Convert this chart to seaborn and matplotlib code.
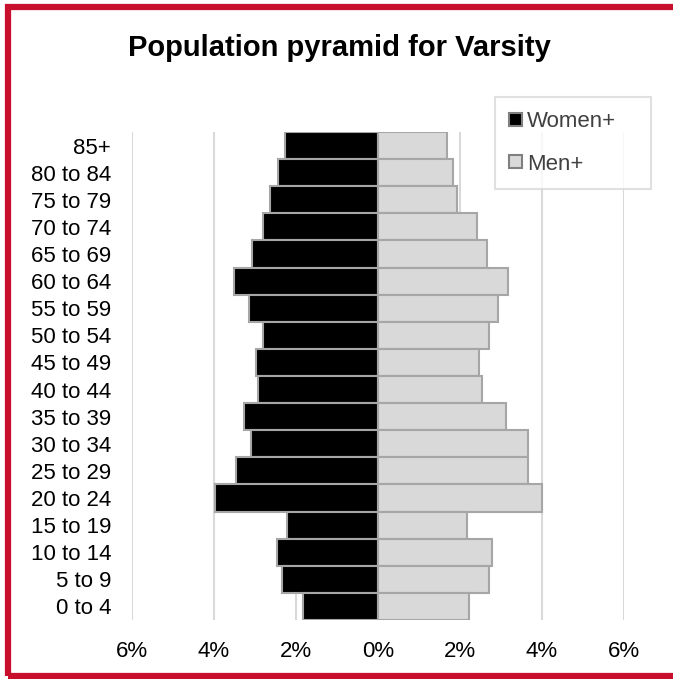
import numpy as np
import pandas as pd
import seaborn as sns
import matplotlib.pyplot as plt
from matplotlib.patches import Rectangle

# Datos del grafico, de arriba hacia abajo
age_groups = ["85+", "80 to 84", "75 to 79", "70 to 74", "65 to 69", "60 to 64",
              "55 to 59", "50 to 54", "45 to 49", "40 to 44", "35 to 39", "30 to 34",
              "25 to 29", "20 to 24", "15 to 19", "10 to 14", "5 to 9", "0 to 4"]
women = [2.27, 2.44, 2.64, 2.81, 3.07, 3.51, 3.14, 2.81, 2.97,
         2.93, 3.26, 3.10, 3.47, 3.97, 2.23, 2.47, 2.35, 1.82]
men = [1.68, 1.84, 1.92, 2.42, 2.67, 3.17, 2.92, 2.71, 2.46,
       2.54, 3.13, 3.67, 3.67, 4.01, 2.17, 2.79, 2.71, 2.21]
x_ticks = [-6, -4, -2, 0, 2, 4, 6]
x_tick_labels = ["6%", "4%", "2%", "0%", "2%", "4%", "6%"]

# Armamos el dataframe largo (mujeres a la izquierda, en negativo)
df = pd.DataFrame({
    "age": age_groups * 2,
    "pct": [-v for v in women] + men,
    "sex": ["Women+"] * len(women) + ["Men+"] * len(men),
})

sns.set_style("white")
plt.rcParams["font.family"] = ["Liberation Sans", "DejaVu Sans"]
plt.rcParams["text.color"] = "black"
plt.rcParams["xtick.color"] = "black"
plt.rcParams["ytick.color"] = "black"

fig = plt.figure(figsize=(6.73, 6.79), dpi=100)
ax = fig.add_axes([132 / 673, 59 / 679, 492 / 673, 488 / 679])

sns.barplot(data=df, x="pct", y="age", hue="sex", order=age_groups,
            hue_order=["Women+", "Men+"], palette=["#000000", "#D9D9D9"],
            dodge=False, width=1.0, orient="h", edgecolor="#A6A6A6",
            linewidth=1.5, ax=ax, zorder=3)

ax.set_xlim(-6, 6)
ax.set_ylim(len(age_groups) - 0.5, -0.5)
ax.set_xticks(x_ticks)
ax.set_xticklabels(x_tick_labels, fontsize=16)
ax.tick_params(axis="y", labelsize=16, pad=15, length=0)
ax.tick_params(axis="x", pad=15, length=0)
ax.set_xlabel("")
ax.set_ylabel("")
ax.grid(True, axis="x", color="#D9D9D9", linewidth=1.5, zorder=0)
ax.grid(False, axis="y")
sns.despine(ax=ax, left=True, bottom=True)

# Leyenda arriba a la derecha, fuera del area de las barras
handles, labels = ax.get_legend_handles_labels()
ax.legend_.remove()
leg = fig.legend(handles, labels, loc="upper left", mode="expand",
                 bbox_to_anchor=(495 / 673, 1 - 187 / 679, 156 / 673, 90 / 679),
                 bbox_transform=fig.transFigure,
                 borderaxespad=0, fontsize=16, frameon=True, fancybox=False,
                 edgecolor="#D9D9D9", handlelength=0.55, handleheight=0.55,
                 handletextpad=0.25, labelspacing=0.95, borderpad=0.65, labelcolor="#404040")
leg.get_frame().set_linewidth(1.5)
for h in leg.legend_handles:
    h.set_edgecolor("#808080")

fig.text(0.505, 1 - 48 / 679, "Population pyramid for Varsity", ha="center", va="center",
         fontsize=21, fontweight="bold", color="black")

# Marco rojo alrededor del grafico
fig.patches.append(Rectangle((8 / 673, 3 / 679), 700 / 673, 669 / 679, transform=fig.transFigure,
                             fill=False, edgecolor="#C8102E", linewidth=4.5, zorder=10))

plt.savefig("out.png", dpi=100)
